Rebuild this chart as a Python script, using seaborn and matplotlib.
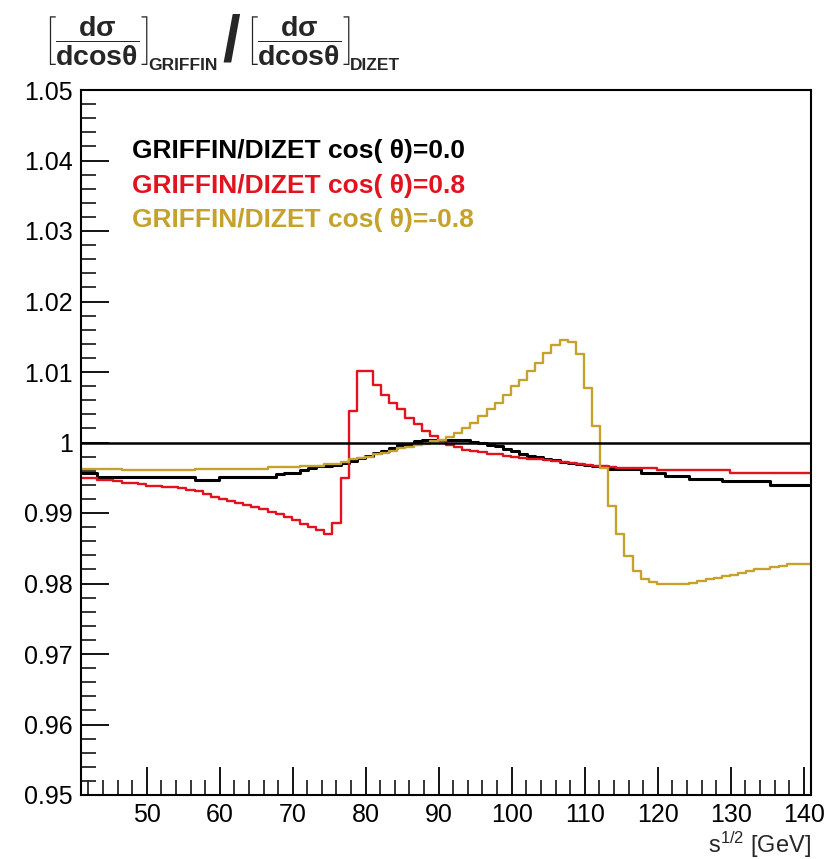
import numpy as np
import pandas as pd
import matplotlib
matplotlib.use("Agg")
import matplotlib.pyplot as plt
from matplotlib.ticker import MultipleLocator, FixedLocator, FixedFormatter
import seaborn as sns

# ---------------- data ----------------
x_min, x_max = 41.0, 141.0
n_bins = 90

ratio_cos00 = [
    0.9957, 0.9957, 0.9951, 0.9951, 0.9951, 0.9951, 0.9951, 0.9951, 0.9951, 0.9951,
    0.9951, 0.9951, 0.9951, 0.9951, 0.9947, 0.9947, 0.9947, 0.9951, 0.9951, 0.9951,
    0.9951, 0.9951, 0.9951, 0.9951, 0.9955, 0.9957, 0.9957, 0.9961, 0.9964, 0.9966,
    0.9967, 0.9968, 0.9971, 0.9974, 0.9978, 0.9981, 0.9985, 0.9988, 0.9992, 0.9996,
    0.9998, 1.0002, 1.0003, 1.0004, 1.0004, 1.0004, 1.0004, 1.0004, 1.0001, 0.9999,
    0.9997, 0.9995, 0.9991, 0.9988, 0.9984, 0.9981, 0.9979, 0.9976, 0.9975, 0.9973,
    0.9971, 0.9970, 0.9968, 0.9967, 0.9966, 0.9962, 0.9962, 0.9962, 0.9962, 0.9957,
    0.9957, 0.9957, 0.9952, 0.9952, 0.9952, 0.99485, 0.99485, 0.99485, 0.99485, 0.9945,
    0.9945, 0.9945, 0.9945, 0.9945, 0.9945, 0.9940, 0.9940, 0.9940, 0.9940, 0.9940,
]

ratio_cos08 = [
    0.9949, 0.9949, 0.9947, 0.9947, 0.9946, 0.9943, 0.9943, 0.9941, 0.9939, 0.9939,
    0.9937, 0.9937, 0.9936, 0.9933, 0.9931, 0.9927, 0.9923, 0.9920, 0.9917, 0.9914,
    0.9911, 0.9908, 0.9905, 0.9902, 0.9899, 0.9895, 0.9890, 0.9885, 0.9880, 0.9876,
    0.9870, 0.9886, 0.9950, 1.0044, 1.0101, 1.0101, 1.0082, 1.0068, 1.0056, 1.0047,
    1.0035, 1.0026, 1.0016, 1.0009, 1.0002, 0.9997, 0.9993, 0.9990, 0.9988, 0.9986,
    0.9984, 0.9983, 0.9981, 0.9980, 0.9978, 0.9977, 0.9976, 0.9975, 0.9974, 0.9972,
    0.9971, 0.9970, 0.9968, 0.9967, 0.9966, 0.9965, 0.9964, 0.9964, 0.9964, 0.9964,
    0.9964, 0.9961, 0.9961, 0.9961, 0.9961, 0.9961, 0.9961, 0.9961, 0.9961, 0.9961,
    0.9957, 0.9957, 0.9957, 0.9957, 0.9957, 0.9957, 0.9957, 0.9957, 0.9957, 0.9957,
]

ratio_cosm08 = [
    0.9962, 0.9962, 0.9962, 0.9962, 0.9962, 0.9961, 0.9961, 0.9961, 0.9961, 0.9961,
    0.9961, 0.9961, 0.9961, 0.9961, 0.9962, 0.9962, 0.9962, 0.9962, 0.9962, 0.9962,
    0.9963, 0.9963, 0.9963, 0.9965, 0.9965, 0.9965, 0.9965, 0.9967, 0.9967, 0.9967,
    0.9969, 0.9969, 0.9972, 0.9976, 0.9978, 0.9980, 0.9983, 0.9985, 0.9988, 0.9992,
    0.9993, 0.9996, 0.9998, 1.0002, 1.0004, 1.0008, 1.0014, 1.0020, 1.0028, 1.0037,
    1.0047, 1.0056, 1.0068, 1.0080, 1.0089, 1.0101, 1.0113, 1.0127, 1.0139, 1.0146,
    1.0143, 1.0125, 1.0078, 1.0023, 0.9964, 0.9910, 0.9870, 0.9839, 0.9818, 0.9806,
    0.9802, 0.9800, 0.9800, 0.9800, 0.9800, 0.9801, 0.9803, 0.9806, 0.9808, 0.9810,
    0.9812, 0.9815, 0.9818, 0.9820, 0.9821, 0.9823, 0.9825, 0.9827, 0.9827, 0.9828,
]

series_labels = [
    "GRIFFIN/DIZET cos( \u03b8)=0.0",
    "GRIFFIN/DIZET cos( \u03b8)=0.8",
    "GRIFFIN/DIZET cos( \u03b8)=-0.8",
]
series_colors = ["#000000", "#e2131f", "#c4a22c"]
reference_value = 1.0

y_ticks = [0.95, 0.96, 0.97, 0.98, 0.99, 1.00, 1.01, 1.02, 1.03, 1.04, 1.05]
y_tick_labels = ["0.95", "0.96", "0.97", "0.98", "0.99", "1",
                 "1.01", "1.02", "1.03", "1.04", "1.05"]
x_ticks = [50, 60, 70, 80, 90, 100, 110, 120, 130, 140]
x_tick_labels = ["50", "60", "70", "80", "90", "100", "110", "120", "130", "140"]

# ---------------- build table ----------------
edges = np.linspace(x_min, x_max, n_bins + 1)
frames = []
for lab, vals in zip(series_labels, [ratio_cos00, ratio_cos08, ratio_cosm08]):
    y = list(vals) + [vals[-1]]
    frames.append(pd.DataFrame({"x": edges, "y": y, "series": lab}))
df = pd.concat(frames, ignore_index=True)

# ---------------- style ----------------
sns.set_theme(style="white")
plt.rcParams["font.family"] = ["Liberation Sans", "DejaVu Sans"]
plt.rcParams["mathtext.fontset"] = "custom"
plt.rcParams["mathtext.rm"] = "Liberation Sans"
plt.rcParams["mathtext.it"] = "Liberation Sans:italic"
plt.rcParams["mathtext.bf"] = "Liberation Sans:bold"

W, H = 833, 859
fig = plt.figure(figsize=(W / 100, H / 100), dpi=100)
ax = fig.add_axes([81 / W, 1 - 795 / H, 730 / W, 705 / H])

palette = dict(zip(series_labels, series_colors))
for lab, lw in zip(series_labels, [2.2, 1.7, 1.7]):
    sns.lineplot(data=df[df["series"] == lab], x="x", y="y", color=palette[lab],
                 drawstyle="steps-post", estimator=None, sort=False,
                 lw=lw, legend=False, ax=ax)

ax.axhline(reference_value, color="black", lw=1.8, zorder=5)

ax.set_xlim(x_min, x_max)
ax.set_ylim(y_ticks[0], y_ticks[-1])
ax.set_xlabel("")
ax.set_ylabel("")

ax.xaxis.set_major_locator(FixedLocator(x_ticks))
ax.xaxis.set_major_formatter(FixedFormatter(x_tick_labels))
ax.xaxis.set_minor_locator(MultipleLocator(2))
ax.yaxis.set_major_locator(FixedLocator(y_ticks))
ax.yaxis.set_major_formatter(FixedFormatter(y_tick_labels))
ax.yaxis.set_minor_locator(MultipleLocator(0.002))

ax.tick_params(axis="both", which="major", direction="in", length=20, width=1.3,
               labelsize=18, colors="black", bottom=True, left=True, top=False, right=False)
ax.tick_params(axis="both", which="minor", direction="in", length=11, width=1.3,
               bottom=True, left=True, top=False, right=False)
ax.tick_params(axis="x", which="major", pad=6)
ax.tick_params(axis="y", which="major", pad=6)

for sp in ax.spines.values():
    sp.set_color("black")
    sp.set_linewidth(1.5)

# legend as coloured text
legend_y = [151, 186, 220]
for lab, col, yp in zip(series_labels, series_colors, legend_y):
    fig.text(132 / W, 1 - yp / H, lab, color=col, fontsize=19,
             fontweight="bold", va="center", ha="left")

# x axis title
fig.text(811 / W, 1 - 845 / H, r"s$^{1/2}$ [GeV]", ha="right", va="center", fontsize=17)

# title (ratio of differential cross sections)
frac = r"$\left[\dfrac{\mathbf{d\sigma}}{\mathbf{dcos\theta}}\right]$"
fig.text(43 / W, 1 - 40 / H, frac, ha="left", va="center", fontsize=20.5)
fig.text(148 / W, 1 - 65 / H, "GRIFFIN", ha="left", va="center", fontsize=12.5,
         fontweight="bold")
fig.text(231 / W, 1 - 43 / H, "/", ha="center", va="center", fontsize=46,
         fontweight="bold")
fig.text(245 / W, 1 - 40 / H, frac, ha="left", va="center", fontsize=20.5)
fig.text(350 / W, 1 - 65 / H, "DIZET", ha="left", va="center", fontsize=12.5,
         fontweight="bold")

fig.savefig("out.png", dpi=100)
